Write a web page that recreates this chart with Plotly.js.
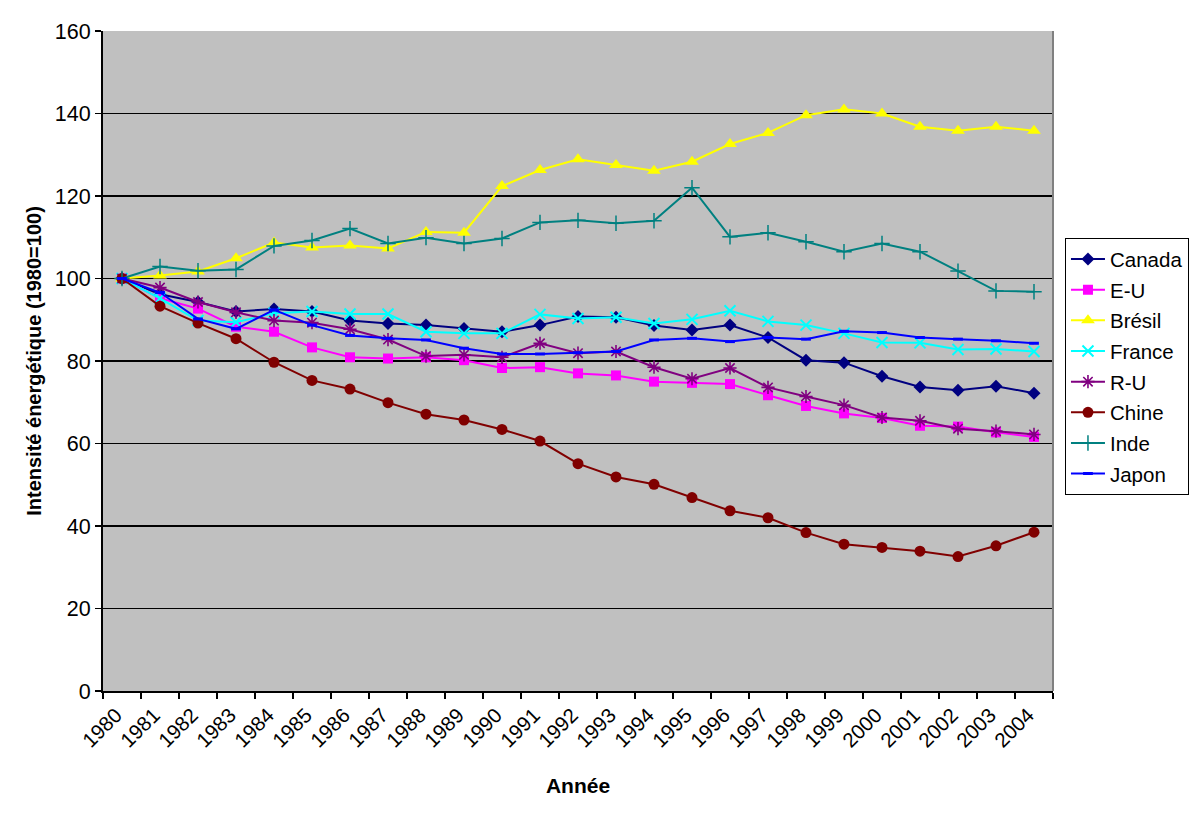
<!DOCTYPE html>
<html>
<head>
<meta charset="utf-8">
<script src="https://cdn.plot.ly/plotly-3.0.1.min.js"></script>
<style>
  html, body { margin: 0; padding: 0; background: #ffffff; }
  #chart { width: 1200px; height: 814px; }
</style>
</head>
<body>
<div id="chart"></div>
<script>
// Intensité énergétique par pays, indice 1980 = 100
const annees = ['1980','1981','1982','1983','1984','1985','1986','1987','1988','1989',
                '1990','1991','1992','1993','1994','1995','1996','1997','1998','1999',
                '2000','2001','2002','2003','2004'];

const canada = [100, 96.2, 94.3, 92.0, 92.6, 92.0, 89.8, 89.1, 88.7, 87.9, 87.1, 88.7, 90.8,
                90.6, 88.6, 87.5, 88.7, 85.7, 80.2, 79.6, 76.3, 73.7, 72.9, 73.9, 72.2];
const eu     = [100, 95.2, 92.7, 88.3, 87.1, 83.3, 80.9, 80.6, 80.9, 80.2, 78.3, 78.5, 77.0,
                76.5, 75.0, 74.7, 74.4, 71.7, 69.1, 67.3, 66.2, 64.3, 64.1, 62.7, 61.6];
const bresil = [100, 100.7, 101.7, 104.9, 108.7, 107.5, 108.0, 107.3, 111.3, 111.1, 122.4, 126.3, 128.9,
                127.5, 126.1, 128.3, 132.6, 135.3, 139.6, 141.0, 140.0, 136.8, 135.8, 136.8, 135.8];
const france = [100, 95.2, 89.8, 89.4, 91.6, 92.0, 91.4, 91.4, 87.1, 86.7, 86.7, 91.3, 90.3,
                90.6, 89.1, 90.1, 92.2, 89.6, 88.7, 86.7, 84.5, 84.4, 82.8, 82.9, 82.3];
const ru     = [100, 97.8, 94.3, 91.8, 89.8, 89.3, 87.7, 85.2, 81.2, 81.5, 80.9, 84.3, 81.9,
                82.3, 78.5, 75.7, 78.3, 73.6, 71.4, 69.3, 66.3, 65.5, 63.6, 63.0, 62.2];
const chine  = [100, 93.3, 89.2, 85.4, 79.7, 75.3, 73.2, 69.9, 67.1, 65.7, 63.4, 60.6, 55.1,
                51.9, 50.1, 46.9, 43.7, 42.0, 38.4, 35.6, 34.8, 33.9, 32.6, 35.2, 38.5];
const inde   = [100, 102.9, 101.9, 102.2, 107.9, 109.2, 112.1, 108.5, 109.9, 108.5, 109.7, 113.6, 114.1,
                113.4, 114.0, 122.0, 110.1, 111.1, 108.9, 106.5, 108.5, 106.5, 101.8, 97.0, 96.8];
const japon  = [100, 96.6, 90.2, 87.8, 92.4, 88.7, 86.2, 85.5, 85.1, 83.1, 81.7, 81.7, 82.0,
                82.3, 85.1, 85.5, 84.7, 85.7, 85.3, 87.2, 86.9, 85.7, 85.3, 84.9, 84.3];

const series = [
  { name: 'Canada', y: canada, color: '#000080', symbol: 'diamond',         size: 10, lw: 0 },
  { name: 'E-U',    y: eu,     color: '#FF00FF', symbol: 'square',          size: 10, lw: 0 },
  { name: 'Brésil', y: bresil, color: '#FFFF00', symbol: 'triangle-up',     size: 12, lw: 0 },
  { name: 'France', y: france, color: '#00FFFF', symbol: 'x-thin-open',     size: 11, lw: 2 },
  { name: 'R-U',    y: ru,     color: '#800080', symbol: 'asterisk-open',   size: 11, lw: 1.6 },
  { name: 'Chine',  y: chine,  color: '#800000', symbol: 'circle',          size: 11, lw: 0 },
  { name: 'Inde',   y: inde,   color: '#008080', symbol: 'cross-thin-open', size: 11, lw: 1.5 },
  { name: 'Japon',  y: japon,  color: '#0000FF', symbol: 'line-ew-open',    size: 7,  lw: 3 }
];

const traces = series.map((s, i) => ({
  type: 'scatter',
  mode: 'lines+markers',
  name: s.name,
  legendgroup: 'g' + i,
  x: annees,
  y: s.y,
  line: { color: s.color, width: 2 },
  marker: {
    symbol: s.symbol,
    size: s.size,
    color: s.color,
    line: { color: s.color, width: s.lw }
  }
}));

const FONT = 'Liberation Sans, Arial, sans-serif';

const layout = {
  width: 1200,
  height: 814,
  paper_bgcolor: '#ffffff',
  plot_bgcolor: '#C0C0C0',
  margin: { l: 103, r: 147, t: 31, b: 123, autoexpand: false },
  font: { family: FONT, color: '#000000', size: 21 },
  showlegend: true,
  legend: {
    x: 1.0126, xanchor: 'left',
    y: 0.686, yanchor: 'top',
    bgcolor: '#ffffff',
    bordercolor: '#000000',
    borderwidth: 1,
    font: { size: 20.5, family: FONT },
    tracegroupgap: 1,
    itemwidth: 34
  },
  xaxis: {
    type: 'category',
    range: [-0.5, 24.5],
    tickson: 'boundaries',
    ticks: 'outside',
    ticklen: 6,
    tickwidth: 1.5,
    tickcolor: '#000000',
    tickangle: -45,
    ticklabelshift: -6,
    ticklabelstandoff: 2,
    tickfont: { size: 20.5 },
    showgrid: false,
    showline: true,
    linecolor: '#000000',
    linewidth: 2,
    zeroline: false,
    fixedrange: true,
    title: {
      text: 'Année',
      font: { size: 21, family: FONT, weight: 'bold' },
      standoff: 28
    }
  },
  yaxis: {
    range: [0, 160],
    dtick: 20,
    tick0: 0,
    ticks: 'outside',
    ticklen: 6,
    tickwidth: 1.5,
    tickcolor: '#000000',
    tickfont: { size: 21.5 },
    showgrid: true,
    gridcolor: '#000000',
    gridwidth: 1.6,
    showline: true,
    linecolor: '#000000',
    linewidth: 2,
    zeroline: false,
    fixedrange: true,
    title: {
      text: 'Intensité énergétique (1980=100)',
      font: { size: 20, family: FONT, weight: 'bold' },
      standoff: 8
    }
  },
  shapes: [
    { type: 'line', xref: 'paper', yref: 'paper', x0: 1, x1: 1, y0: 0, y1: 1,
      line: { color: '#808080', width: 2 } }
  ]
};

Plotly.newPlot('chart', traces, layout, { displayModeBar: false, staticPlot: true });
</script>
</body>
</html>
